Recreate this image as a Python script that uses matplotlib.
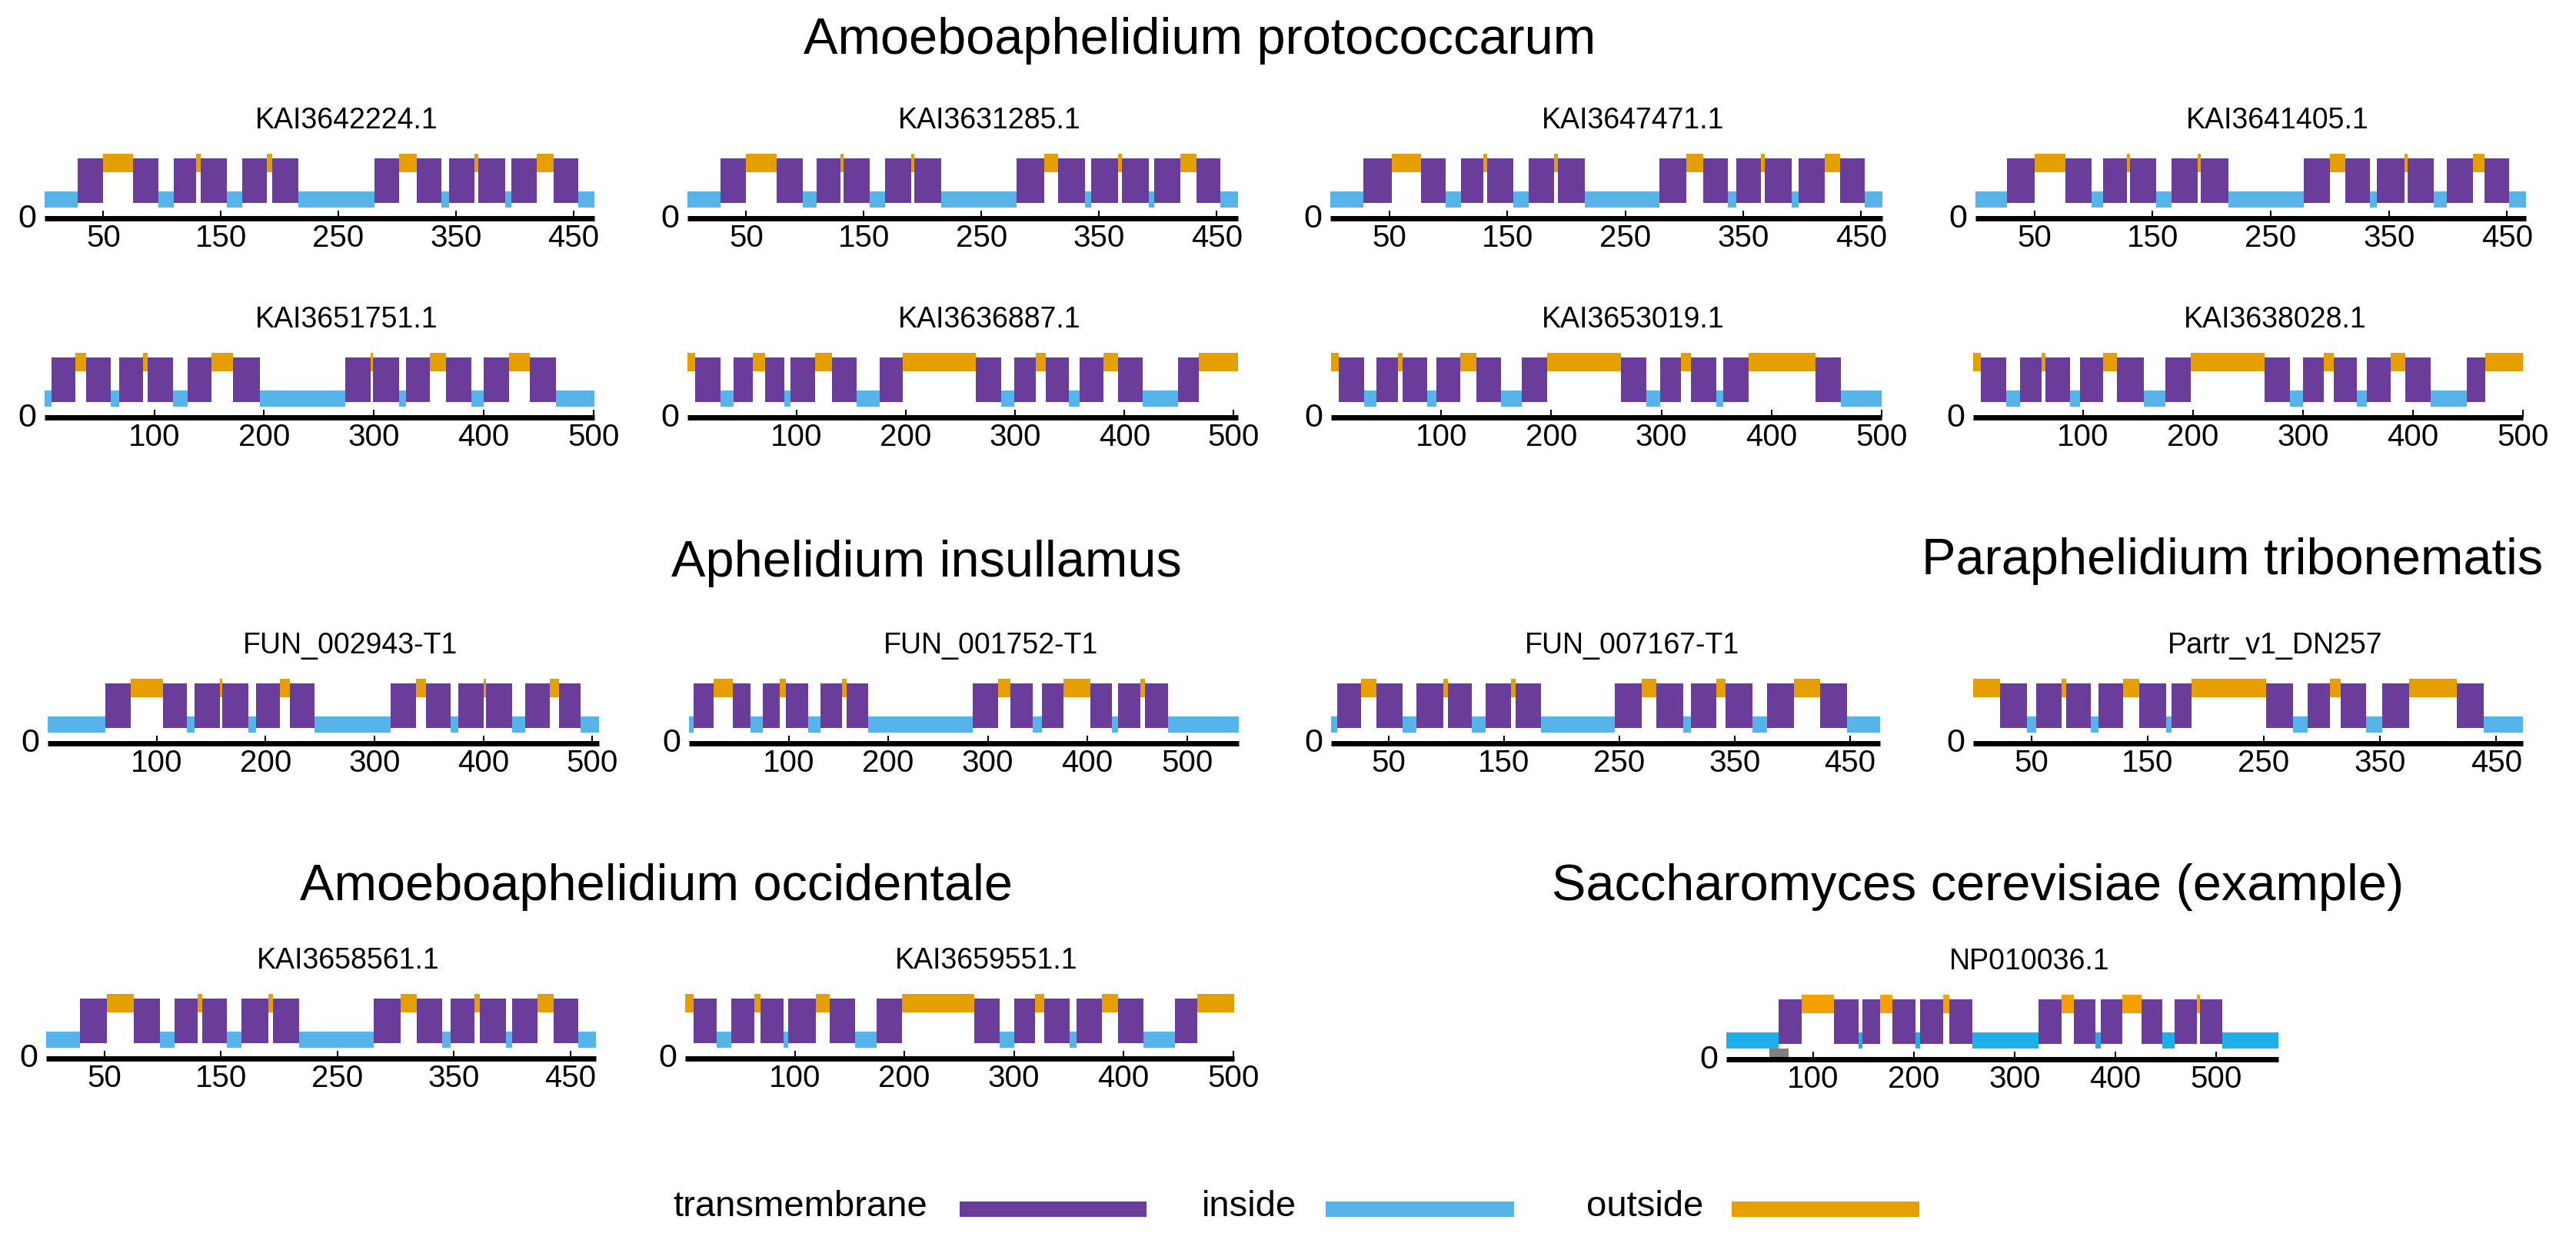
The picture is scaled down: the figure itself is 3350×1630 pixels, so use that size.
import matplotlib
matplotlib.use('Agg')
import matplotlib.pyplot as plt
from matplotlib.lines import Line2D

plt.rcParams['font.family'] = ['Liberation Sans', 'DejaVu Sans']

# ---------------- data: topology segments (start, end, kind) ----------------
# kind: 'i' = inside, 'M' = transmembrane, 'o' = outside
KAI3642224_1 = [(0,28,'i'),(28,50,'M'),(50,75,'o'),(75,97,'M'),(97,110,'i'),(110,129,'M'),(129,133,'o'),(133,155,'M'),(155,168,'i'),(168,189,'M'),(189,194,'o'),(194,216,'M'),(216,281,'i'),(281,302,'M'),(302,317,'o'),(317,338,'M'),(338,344,'i'),(344,366,'M'),(366,369,'o'),(369,392,'M'),(392,397,'i'),(397,419,'M'),(419,433,'o'),(433,454,'M'),(454,468,'i')]
KAI3631285_1 = [(0,28,'i'),(28,50,'M'),(50,76,'o'),(76,98,'M'),(98,110,'i'),(110,130,'M'),(130,133,'o'),(133,155,'M'),(155,168,'i'),(168,190,'M'),(190,193,'o'),(193,216,'M'),(216,280,'i'),(280,303,'M'),(303,315,'o'),(315,338,'M'),(338,343,'i'),(343,366,'M'),(366,369,'o'),(369,392,'M'),(392,397,'i'),(397,419,'M'),(419,433,'o'),(433,453,'M'),(453,468,'i')]
KAI3647471_1 = [(0,28,'i'),(28,52,'M'),(52,77,'o'),(77,98,'M'),(98,111,'i'),(111,130,'M'),(130,133,'o'),(133,155,'M'),(155,168,'i'),(168,190,'M'),(190,193,'o'),(193,216,'M'),(216,279,'i'),(279,302,'M'),(302,316,'o'),(316,337,'M'),(337,344,'i'),(344,365,'M'),(365,368,'o'),(368,391,'M'),(391,397,'i'),(397,419,'M'),(419,432,'o'),(432,453,'M'),(453,468,'i')]
KAI3641405_1 = [(0,27,'i'),(27,50,'M'),(50,76,'o'),(76,98,'M'),(98,108,'i'),(108,128,'M'),(128,131,'o'),(131,153,'M'),(153,166,'i'),(166,188,'M'),(188,191,'o'),(191,214,'M'),(214,278,'i'),(278,300,'M'),(300,313,'o'),(313,334,'M'),(334,340,'i'),(340,363,'M'),(363,366,'o'),(366,388,'M'),(388,399,'i'),(399,421,'M'),(421,431,'o'),(431,452,'M'),(452,466,'i')]

KAI3651751_1 = [(0,6,'i'),(6,28,'M'),(28,38,'o'),(38,60,'M'),(60,68,'i'),(68,90,'M'),(90,94,'o'),(94,117,'M'),(117,130,'i'),(130,152,'M'),(152,172,'o'),(172,196,'M'),(196,274,'i'),(274,297,'M'),(297,299,'o'),(299,323,'M'),(323,329,'i'),(329,351,'M'),(351,366,'o'),(366,389,'M'),(389,400,'i'),(400,423,'M'),(423,442,'o'),(442,466,'M'),(466,501,'i')]
KAI3636887_1 = [(0,7,'o'),(7,30,'M'),(30,42,'i'),(42,60,'M'),(60,71,'o'),(71,89,'M'),(89,94,'i'),(94,117,'M'),(117,132,'o'),(132,155,'M'),(155,176,'i'),(176,197,'M'),(197,264,'o'),(264,287,'M'),(287,299,'i'),(299,319,'M'),(319,328,'o'),(328,349,'M'),(349,359,'i'),(359,381,'M'),(381,394,'o'),(394,417,'M'),(417,449,'i'),(449,468,'M'),(468,504,'o')]
KAI3653019_1 = [(0,7,'o'),(7,30,'M'),(30,41,'i'),(41,61,'M'),(61,65,'o'),(65,87,'M'),(87,96,'i'),(96,117,'M'),(117,132,'o'),(132,154,'M'),(154,173,'i'),(173,196,'M'),(196,263,'o'),(263,286,'M'),(286,299,'i'),(299,318,'M'),(318,327,'o'),(327,350,'M'),(350,356,'i'),(356,379,'M'),(379,440,'o'),(440,463,'M'),(463,500,'i')]
KAI3638028_1 = [(0,7,'o'),(7,30,'M'),(30,43,'i'),(43,62,'M'),(62,66,'o'),(66,88,'M'),(88,97,'i'),(97,118,'M'),(118,131,'o'),(131,155,'M'),(155,175,'i'),(175,198,'M'),(198,265,'o'),(265,288,'M'),(288,300,'i'),(300,319,'M'),(319,328,'o'),(328,349,'M'),(349,358,'i'),(358,380,'M'),(380,393,'o'),(393,416,'M'),(416,449,'i'),(449,466,'M'),(466,500,'o')]

FUN_002943_T1 = [(0,53,'i'),(53,76,'M'),(76,106,'o'),(106,128,'M'),(128,135,'i'),(135,158,'M'),(158,160,'o'),(160,184,'M'),(184,191,'i'),(191,213,'M'),(213,222,'o'),(222,245,'M'),(245,315,'i'),(315,338,'M'),(338,347,'o'),(347,370,'M'),(370,377,'i'),(377,400,'M'),(400,402,'o'),(402,426,'M'),(426,438,'i'),(438,461,'M'),(461,469,'o'),(469,489,'M'),(489,506,'i')]
FUN_001752_T1 = [(0,5,'i'),(5,25,'M'),(25,44,'o'),(44,62,'M'),(62,74,'i'),(74,91,'M'),(91,97,'o'),(97,120,'M'),(120,132,'i'),(132,154,'M'),(154,158,'o'),(158,180,'M'),(180,285,'i'),(285,310,'M'),(310,323,'o'),(323,345,'M'),(345,354,'i'),(354,376,'M'),(376,403,'o'),(403,425,'M'),(425,431,'i'),(431,453,'M'),(453,458,'o'),(458,481,'M'),(481,552,'i')]
FUN_007167_T1 = [(0,5,'i'),(5,26,'M'),(26,39,'o'),(39,62,'M'),(62,74,'i'),(74,97,'M'),(97,101,'o'),(101,122,'M'),(122,134,'i'),(134,156,'M'),(156,160,'o'),(160,182,'M'),(182,246,'i'),(246,269,'M'),(269,282,'o'),(282,305,'M'),(305,312,'i'),(312,334,'M'),(334,342,'o'),(342,365,'M'),(365,378,'i'),(378,401,'M'),(401,424,'o'),(424,447,'M'),(447,476,'i')]
Partr_v1_DN257 = [(0,23,'o'),(23,46,'M'),(46,54,'i'),(54,76,'M'),(76,80,'o'),(80,101,'M'),(101,108,'i'),(108,129,'M'),(129,143,'o'),(143,166,'M'),(166,171,'i'),(171,188,'M'),(188,252,'o'),(252,275,'M'),(275,288,'i'),(288,307,'M'),(307,316,'o'),(316,338,'M'),(338,352,'i'),(352,375,'M'),(375,416,'o'),(416,439,'M'),(439,473,'i')]

KAI3658561_1 = [(0,29,'i'),(29,52,'M'),(52,75,'o'),(75,98,'M'),(98,110,'i'),(110,130,'M'),(130,134,'o'),(134,155,'M'),(155,168,'i'),(168,191,'M'),(191,195,'o'),(195,217,'M'),(217,281,'i'),(281,304,'M'),(304,318,'o'),(318,340,'M'),(340,347,'i'),(347,368,'M'),(368,372,'o'),(372,395,'M'),(395,400,'i'),(400,422,'M'),(422,436,'o'),(436,457,'M'),(457,472,'i')]
KAI3659551_1 = [(0,8,'o'),(8,29,'M'),(29,42,'i'),(42,63,'M'),(63,69,'o'),(69,90,'M'),(90,94,'i'),(94,119,'M'),(119,132,'o'),(132,155,'M'),(155,175,'i'),(175,198,'M'),(198,264,'o'),(264,287,'M'),(287,300,'i'),(300,319,'M'),(319,328,'o'),(328,351,'M'),(351,357,'i'),(357,380,'M'),(380,395,'o'),(395,418,'M'),(418,447,'i'),(447,467,'M'),(467,501,'o')]
NP010036_1 = [(14,66,'i'),(66,89,'M'),(89,121,'o'),(121,145,'M'),(145,149,'i'),(149,167,'M'),(167,179,'o'),(179,202,'M'),(202,206,'i'),(206,229,'M'),(229,235,'o'),(235,258,'M'),(258,324,'i'),(324,347,'M'),(347,359,'o'),(359,380,'M'),(380,386,'i'),(386,407,'M'),(407,426,'o'),(426,447,'M'),(447,459,'i'),(459,481,'M'),(481,484,'o'),(484,506,'M'),(506,562,'i')]
NP010036_1_extra = (57, 76)   # small grey feature

ticks_50 = [50, 150, 250, 350, 450]
ticks_100 = [100, 200, 300, 400, 500]

section_titles = ["Amoeboaphelidium protococcarum", "Aphelidium insullamus",
                  "Paraphelidium tribonematis", "Amoeboaphelidium occidentale",
                  "Saccharomyces cerevisiae (example)"]
legend_labels = ["transmembrane", "inside", "outside"]

# ---------------- styling ----------------
W, H = 3350, 1630
fig = plt.figure(figsize=(W / 100, H / 100), dpi=100)

COL = {'M': '#6a3d9a', 'i': '#56B4E9', 'o': '#E69F00'}
COL_NP = {'M': '#6a3d9a', 'i': '#1cb0e6', 'o': '#F5A000'}
YB = {'i': (14, 21), 'o': (60, 24), 'M': (20, 58)}


def panel(x0, x1, yax, name, segs, ticks, cols=COL, grey=None):
    ax = fig.add_axes([x0 / W, 1 - yax / H, (x1 - x0) / W, 90 / H])
    ax.patch.set_alpha(0)
    for kind in ['i', 'o', 'M']:
        bars = [(s, e - s) for s, e, k in segs if k == kind]
        ax.broken_barh(bars, YB[kind], facecolors=cols[kind], edgecolor='none')
    if grey is not None:
        ax.broken_barh([(grey[0], grey[1] - grey[0])], (0, 14), facecolors='#7f7f7f')
    ax.set_xlim(segs[0][0], segs[-1][1])
    ax.set_ylim(0, 90)
    for sp in ['top', 'right', 'left']:
        ax.spines[sp].set_visible(False)
    ax.spines['bottom'].set_linewidth(5)
    ax.spines['bottom'].set_capstyle('butt')
    ax.set_xticks(ticks)
    ax.tick_params(axis='x', direction='in', length=7, width=1.5, labelsize=29, pad=5)
    ax.set_yticks([4])
    ax.set_yticklabels(['0'])
    ax.tick_params(axis='y', length=0, labelsize=31, pad=8)
    fig.text(((x0 + x1) / 2 + 35) / W, 1 - (yax - 127) / H, name,
             ha='center', va='center', fontsize=27)
    return ax


# row 1
panel(58, 773, 284, "KAI3642224.1", KAI3642224_1, ticks_50)
panel(894, 1610, 284, "KAI3631285.1", KAI3631285_1, ticks_50)
panel(1730, 2448, 284, "KAI3647471.1", KAI3647471_1, ticks_50)
panel(2569, 3285, 284, "KAI3641405.1", KAI3641405_1, ticks_50)
# row 2
panel(58, 773, 543, "KAI3651751.1", KAI3651751_1, ticks_100)
panel(894, 1610, 543, "KAI3636887.1", KAI3636887_1, ticks_100)
panel(1731, 2447, 543, "KAI3653019.1", KAI3653019_1, ticks_100)
panel(2566, 3281, 543, "KAI3638028.1", KAI3638028_1, ticks_100)
# row 3
panel(62, 779, 967, "FUN_002943-T1", FUN_002943_T1, ticks_100)
panel(896, 1611, 967, "FUN_001752-T1", FUN_001752_T1, ticks_100)
panel(1731, 2445, 967, "FUN_007167-T1", FUN_007167_T1, ticks_50)
panel(2566, 3281, 967, "Partr_v1_DN257", Partr_v1_DN257, ticks_50)
# row 4
panel(60, 775, 1377, "KAI3658561.1", KAI3658561_1, ticks_50)
panel(891, 1605, 1377, "KAI3659551.1", KAI3659551_1, ticks_100)
panel(2245, 2963, 1378, "NP010036.1", NP010036_1, ticks_100, cols=COL_NP, grey=NP010036_1_extra)

# section titles
sec_pos = [(1560, 53), (1205, 733), (2903, 730), (853, 1154), (2572, 1154)]
for t, (x, y) in zip(section_titles, sec_pos):
    fig.text(x / W, 1 - y / H, t, ha='center', va='center', fontsize=48)

# legend
leg_text_x = [875, 1563, 2063]
leg_bar = [(1248, 1491), (1724, 1969), (2252, 2496)]
leg_cols = [COL['M'], COL['i'], COL['o']]
for lab, tx, (b0, b1), c in zip(legend_labels, leg_text_x, leg_bar, leg_cols):
    fig.text(tx / W, 1 - 1570 / H, lab, ha='left', va='center', fontsize=34)
    fig.add_artist(Line2D([b0 / W, b1 / W], [1 - 1573 / H, 1 - 1573 / H],
                          transform=fig.transFigure, color=c, lw=14.4,
                          solid_capstyle='butt'))

fig.savefig('out.png', dpi=100, facecolor='white')
